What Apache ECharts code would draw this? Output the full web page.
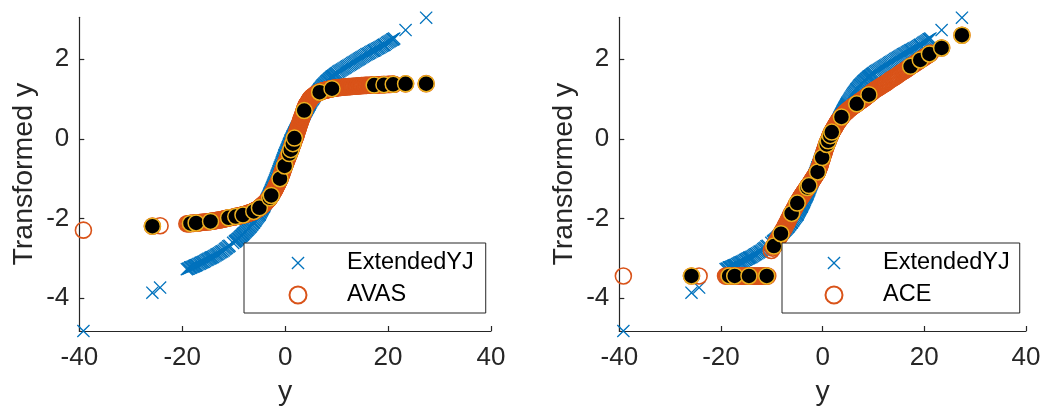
<!DOCTYPE html>
<html>
<head>
<meta charset="utf-8">
<script src="https://cdn.jsdelivr.net/npm/echarts@6/dist/echarts.min.js"></script>
<style>
  html, body { margin: 0; padding: 0; background: #fff; }
  #chart { width: 1052px; height: 415px; }
</style>
</head>
<body>
<div id="chart"></div>
<script>
// Observed y values and their transformed values (ExtendedYJ, AVAS, ACE)
const obsY = [
  -39.2, -24.3,
  -19.1, -18.7, -18.2, -17.8, -17.5, -17.1, -16.6, -16.2, -15.8, -15.3,
  -14.9, -14.4, -14.0, -13.5, -13.1, -12.6, -12.2, -11.7, -11.3, -10.8, -10.1,
  -9.8, -9.5, -9.2, -8.9, -8.6, -8.3, -8.0, -7.7, -7.4, -7.1, -6.8, -6.5, -6.2, -5.9, -5.6, -5.3, -5.0,
  -4.8, -4.62, -4.47, -4.31, -4.14, -4.02, -3.86, -3.69, -3.57, -3.41,
  -3.25, -3.1, -2.96, -2.8, -2.64, -2.5, -2.36, -2.2, -2.05, -1.91,
  -1.75, -1.6, -1.44, -1.3, -1.16, -1.0, -0.86, -0.7, -0.55, -0.41,
  -0.25, -0.1, 0.05, 0.21, 0.35, 0.5, 0.66, 0.8, 0.95, 1.1,
  1.26, 1.4, 1.55, 1.7, 1.86, 2.0, 2.15, 2.3, 2.44, 2.6,
  2.75, 2.9, 3.06, 3.2, 3.35, 3.51, 3.65, 3.8, 3.95, 4.1,
  4.25, 4.4, 4.56, 4.7, 4.85,
  5.1, 5.4, 5.7, 6.0, 6.3, 6.6, 6.9, 7.2, 7.5, 7.8, 8.1, 8.4, 8.7, 9.0, 9.3, 9.6, 9.9,
  10.3, 10.8, 11.3, 11.8, 12.3, 12.8, 13.3, 13.8, 14.3, 14.8, 15.3, 15.8,
  16.3, 16.8, 17.3, 17.8, 18.3, 18.8, 19.3, 19.8, 20.3, 20.8, 21.2
];
const yjT = [
  -4.82, -3.73,
  -3.27, -3.25, -3.22, -3.20, -3.18, -3.16, -3.13, -3.10, -3.08, -3.04,
  -3.01, -2.98, -2.96, -2.92, -2.89, -2.85, -2.82, -2.77, -2.73, -2.68, -2.61,
  -2.58, -2.55, -2.51, -2.48, -2.44, -2.41, -2.37, -2.33, -2.29, -2.25, -2.21, -2.16, -2.11, -2.06, -2.01, -1.95, -1.90,
  -1.85, -1.80, -1.77, -1.73, -1.70, -1.66, -1.62, -1.58, -1.53, -1.49,
  -1.45, -1.41, -1.36, -1.32, -1.27, -1.22, -1.17, -1.12, -1.08, -1.03,
  -0.98, -0.92, -0.87, -0.82, -0.77, -0.72, -0.67, -0.62, -0.57, -0.52,
  -0.47, -0.41, -0.36, -0.32, -0.27, -0.22, -0.18, -0.13, -0.09, -0.04,
  0.00, 0.04, 0.08, 0.12, 0.16, 0.20, 0.24, 0.28, 0.31, 0.35,
  0.39, 0.43, 0.46, 0.50, 0.54, 0.58, 0.61, 0.65, 0.69, 0.72,
  0.76, 0.79, 0.83, 0.86, 0.90,
  0.95, 1.01, 1.07, 1.13, 1.18, 1.23, 1.28, 1.33, 1.37, 1.41, 1.45, 1.48, 1.52, 1.55, 1.58, 1.61, 1.64,
  1.68, 1.72, 1.76, 1.80, 1.84, 1.88, 1.92, 1.96, 2.00, 2.04, 2.08, 2.12,
  2.15, 2.19, 2.22, 2.26, 2.29, 2.33, 2.36, 2.41, 2.45, 2.49, 2.52
];
const avasT = [
  -2.29, -2.18,
  -2.13, -2.13, -2.12, -2.12, -2.11, -2.11, -2.10, -2.09, -2.09, -2.08,
  -2.08, -2.07, -2.06, -2.05, -2.04, -2.03, -2.02, -2.00, -1.99, -1.98, -1.96,
  -1.95, -1.945, -1.94, -1.93, -1.92, -1.91, -1.90, -1.89, -1.88, -1.86, -1.85, -1.84, -1.82, -1.80, -1.78, -1.76, -1.73,
  -1.71, -1.69, -1.67, -1.65, -1.64, -1.62, -1.60, -1.58, -1.56, -1.54,
  -1.52, -1.50, -1.47, -1.44, -1.41, -1.38, -1.34, -1.31, -1.28, -1.24,
  -1.20, -1.16, -1.12, -1.08, -1.04, -1.00, -0.95, -0.89, -0.84, -0.78,
  -0.73, -0.68, -0.62, -0.57, -0.52, -0.47, -0.42, -0.37, -0.32, -0.27,
  -0.21, -0.16, -0.11, -0.05, 0.00, 0.05, 0.11, 0.17, 0.23, 0.29,
  0.35, 0.41, 0.47, 0.52, 0.58, 0.63, 0.69, 0.75, 0.80, 0.84,
  0.87, 0.90, 0.94, 0.97, 1.00,
  1.04, 1.07, 1.10, 1.13, 1.15, 1.17, 1.19, 1.20, 1.21, 1.22, 1.23, 1.24, 1.25, 1.26, 1.265, 1.27, 1.28,
  1.285, 1.29, 1.30, 1.305, 1.31, 1.315, 1.32, 1.325, 1.33, 1.335, 1.34, 1.342,
  1.345, 1.348, 1.35, 1.353, 1.357, 1.36, 1.362, 1.365, 1.367, 1.37, 1.37
];
const aceT = [
  -3.44, -3.44,
  -3.44, -3.44, -3.44, -3.44, -3.44, -3.44, -3.44, -3.44, -3.44, -3.44,
  -3.44, -3.44, -3.44, -3.44, -3.44, -3.44, -3.44, -3.44, -3.44, -3.44, -2.80,
  -2.74, -2.67, -2.60, -2.54, -2.47, -2.41, -2.34, -2.27, -2.20, -2.12, -2.05, -1.97, -1.89, -1.82, -1.75, -1.68, -1.61,
  -1.57, -1.53, -1.50, -1.47, -1.44, -1.41, -1.38, -1.35, -1.32, -1.30,
  -1.27, -1.24, -1.21, -1.18, -1.16, -1.13, -1.10, -1.07, -1.04, -1.01,
  -0.98, -0.95, -0.92, -0.89, -0.86, -0.83, -0.78, -0.73, -0.68, -0.62,
  -0.55, -0.49, -0.43, -0.37, -0.31, -0.25, -0.19, -0.14, -0.09, -0.05,
  0.00, 0.05, 0.10, 0.14, 0.18, 0.22, 0.25, 0.28, 0.31, 0.35,
  0.38, 0.41, 0.44, 0.46, 0.49, 0.51, 0.54, 0.57, 0.59, 0.61,
  0.63, 0.65, 0.67, 0.68, 0.70,
  0.73, 0.76, 0.79, 0.82, 0.85, 0.87, 0.90, 0.93, 0.96, 0.98, 1.01, 1.04, 1.07, 1.10, 1.13, 1.16, 1.19,
  1.23, 1.27, 1.31, 1.35, 1.39, 1.43, 1.48, 1.52, 1.56, 1.60, 1.65, 1.69,
  1.73, 1.77, 1.82, 1.86, 1.90, 1.94, 1.99, 2.03, 2.07, 2.11, 2.15
];

// Further observations lying between the ones above
const obsY2 = [
  -18.9, -18.45, -18.0, -17.65, -17.3, -16.85, -16.4, -16.0, -15.55, -15.1,
  -14.65, -14.2, -13.75, -13.3, -12.85, -12.4, -11.95, -11.5, -11.05,
  -9.65, -9.35, -9.05, -8.75, -8.45, -8.15, -7.85, -7.55, -7.25, -6.95, -6.65, -6.35, -6.05, -5.75, -5.45, -5.15,
  -4.9, -4.71, -4.55, -4.39, -4.22, -4.08, -3.94, -3.78, -3.63, -3.49,
  -3.33, -3.18, -3.03, -2.88, -2.72, -2.57, -2.43, -2.28, -2.13, -1.98,
  -1.83, -1.68, -1.52, -1.37, -1.23, -1.08, -0.93, -0.78, -0.62, -0.48,
  -0.33, -0.17, -0.03, 0.13, 0.28, 0.43, 0.58, 0.73, 0.88, 1.03,
  1.18, 1.33, 1.48, 1.63, 1.78, 1.93, 2.08, 2.23, 2.37, 2.52,
  2.68, 2.83, 2.98, 3.13, 3.28, 3.43, 3.58, 3.73, 3.88, 4.03,
  4.18, 4.33, 4.48, 4.63, 4.78, 4.95,
  5.25, 5.55, 5.85, 6.15, 6.45, 6.75, 7.05, 7.35, 7.65, 7.95, 8.25, 8.55, 8.85, 9.15, 9.45, 9.75,
  10.05, 10.55, 11.05, 11.55, 12.05, 12.55, 13.05, 13.55, 14.05, 14.55, 15.05, 15.55,
  16.05, 16.55, 17.05, 17.55, 18.05, 18.55, 19.05, 19.55, 20.05, 20.55, 21.0
];
const yjT2 = [
  -3.26, -3.23, -3.21, -3.19, -3.17, -3.14, -3.11, -3.09, -3.06, -3.03,
  -3.00, -2.97, -2.94, -2.90, -2.87, -2.83, -2.80, -2.75, -2.70,
  -2.56, -2.53, -2.50, -2.46, -2.43, -2.39, -2.35, -2.31, -2.27, -2.23, -2.19, -2.14, -2.09, -2.04, -1.98, -1.93,
  -1.88, -1.83, -1.79, -1.75, -1.71, -1.68, -1.64, -1.60, -1.56, -1.52,
  -1.47, -1.43, -1.39, -1.34, -1.29, -1.24, -1.20, -1.15, -1.10, -1.05,
  -1.00, -0.95, -0.90, -0.85, -0.80, -0.75, -0.70, -0.65, -0.59, -0.54,
  -0.49, -0.44, -0.39, -0.34, -0.29, -0.25, -0.20, -0.15, -0.11, -0.06,
  -0.02, 0.02, 0.06, 0.10, 0.14, 0.18, 0.22, 0.26, 0.29, 0.33,
  0.37, 0.41, 0.45, 0.48, 0.52, 0.56, 0.60, 0.63, 0.67, 0.71,
  0.74, 0.78, 0.81, 0.85, 0.88, 0.92,
  0.98, 1.04, 1.10, 1.155, 1.205, 1.255, 1.305, 1.35, 1.39, 1.43, 1.465, 1.50, 1.535, 1.565, 1.595, 1.625,
  1.655, 1.70, 1.74, 1.78, 1.82, 1.86, 1.90, 1.94, 1.98, 2.02, 2.06, 2.10,
  2.135, 2.17, 2.205, 2.24, 2.275, 2.31, 2.345, 2.385, 2.43, 2.47, 2.50
];
const avasT2 = [
  -2.13, -2.125, -2.12, -2.115, -2.11, -2.105, -2.10, -2.09, -2.085, -2.08,
  -2.075, -2.065, -2.055, -2.045, -2.035, -2.025, -2.015, -2.00, -1.985,
  -1.95, -1.94, -1.935, -1.925, -1.915, -1.905, -1.895, -1.885, -1.87, -1.86, -1.845, -1.83, -1.81, -1.79, -1.77, -1.745,
  -1.72, -1.70, -1.68, -1.66, -1.645, -1.63, -1.61, -1.59, -1.57, -1.55,
  -1.53, -1.51, -1.485, -1.455, -1.425, -1.40, -1.36, -1.33, -1.30, -1.26,
  -1.22, -1.18, -1.14, -1.10, -1.06, -1.02, -0.97, -0.92, -0.86, -0.81,
  -0.76, -0.70, -0.65, -0.60, -0.55, -0.49, -0.44, -0.39, -0.34, -0.29,
  -0.24, -0.18, -0.13, -0.08, -0.02, 0.03, 0.08, 0.14, 0.20, 0.26,
  0.32, 0.38, 0.44, 0.50, 0.55, 0.61, 0.66, 0.72, 0.77, 0.83,
  0.86, 0.89, 0.92, 0.955, 0.985, 1.02,
  1.055, 1.085, 1.115, 1.14, 1.16, 1.18, 1.195, 1.205, 1.215, 1.225, 1.235, 1.245, 1.255, 1.262, 1.268, 1.275,
  1.282, 1.288, 1.295, 1.302, 1.308, 1.312, 1.318, 1.322, 1.328, 1.332, 1.338, 1.341,
  1.344, 1.346, 1.349, 1.352, 1.355, 1.358, 1.361, 1.363, 1.366, 1.368, 1.37
];
const aceT2 = [
  -3.44, -3.44, -3.44, -3.44, -3.44, -3.44, -3.44, -3.44, -3.44, -3.44,
  -3.44, -3.44, -3.44, -3.44, -3.44, -3.44, -3.44, -3.44, -3.44,
  -2.70, -2.64, -2.57, -2.51, -2.44, -2.37, -2.30, -2.24, -2.16, -2.09, -2.01, -1.93, -1.86, -1.79, -1.72, -1.65,
  -1.59, -1.55, -1.52, -1.48, -1.45, -1.42, -1.40, -1.37, -1.34, -1.31,
  -1.28, -1.25, -1.22, -1.19, -1.17, -1.14, -1.11, -1.08, -1.05, -1.02,
  -0.99, -0.96, -0.93, -0.90, -0.87, -0.84, -0.80, -0.75, -0.70, -0.65,
  -0.58, -0.52, -0.46, -0.40, -0.34, -0.28, -0.22, -0.16, -0.11, -0.07,
  -0.02, 0.03, 0.07, 0.12, 0.16, 0.20, 0.23, 0.26, 0.29, 0.33,
  0.36, 0.39, 0.43, 0.45, 0.48, 0.50, 0.52, 0.55, 0.58, 0.60,
  0.62, 0.64, 0.66, 0.675, 0.69, 0.71,
  0.745, 0.775, 0.805, 0.835, 0.86, 0.885, 0.915, 0.945, 0.97, 0.995, 1.025, 1.055, 1.085, 1.115, 1.145, 1.175,
  1.21, 1.25, 1.29, 1.33, 1.37, 1.41, 1.455, 1.50, 1.54, 1.58, 1.625, 1.67,
  1.71, 1.75, 1.795, 1.84, 1.88, 1.92, 1.965, 2.01, 2.05, 2.09, 2.13
];

// Marked observations (filled black circles) and their transformed values
const markY    = [-25.8, -18.4, -17.3, -14.5, -11.0, -9.6, -8.2, -6.1, -5.0, -3.0, -2.7, -1.0, -0.1, 0.8, 1.1, 1.5, 1.8, 3.7, 6.7, 9.1, 17.3, 19.2, 21.0, 23.4, 27.4];
const markYJ   = [-3.86, -3.23, -3.17, -2.99, -2.70, -2.56, -2.39, -2.10, -1.90, -1.38, -1.29, -0.72, -0.41, -0.13, -0.04, 0.07, 0.15, 0.62, 1.25, 1.56, 2.22, 2.36, 2.50, 2.73, 3.04];
const markAvas = [-2.19, -2.12, -2.11, -2.07, -1.98, -1.95, -1.91, -1.82, -1.73, -1.48, -1.42, -1.00, -0.68, -0.37, -0.27, -0.12, 0.02, 0.71, 1.17, 1.26, 1.35, 1.36, 1.37, 1.38, 1.385];
const markAce  = [-3.44, -3.44, -3.44, -3.44, -3.44, -2.69, -2.38, -1.87, -1.61, -1.22, -1.17, -0.83, -0.47, -0.14, -0.05, 0.08, 0.17, 0.55, 0.88, 1.11, 1.82, 1.98, 2.13, 2.28, 2.60];

const xTicksStep = 20;
const yTickValues = [-4, -2, 0, 2];
const yRange = [-4.82, 3.05];

const FONT = 'Arial, "Liberation Sans", Helvetica, sans-serif';
const INK = '#262626';
const BLUE = '#0072BD';
const ORANGE = '#D95319';
const GOLD = '#EDB120';
// "x" marker drawn as a filled thin cross, with a little padding in its 26x26 box
const X_MARK = 'path://M0,0M26,26M3,4.4L4.4,3L13,11.6L21.6,3L23,4.4L14.4,13L23,21.6L21.6,23L13,14.4L4.4,23L3,21.6L11.6,13Z';

const allY = obsY.concat(obsY2, markY);
const allYJ = yjT.concat(yjT2, markYJ);
const allAvas = avasT.concat(avasT2, markAvas);
const allAce = aceT.concat(aceT2, markAce);
const pairs = (xs, ys) => xs.map((x, i) => [x, ys[i]]);

function xAxisFor(gridIndex) {
  return {
    type: 'value', gridIndex: gridIndex,
    min: -40, max: 40, interval: xTicksStep,
    name: 'y', nameLocation: 'middle', nameGap: 47,
    nameTextStyle: { fontSize: 28.5, color: INK, fontFamily: FONT },
    axisLine: { onZero: false, lineStyle: { color: INK, width: 1.2 } },
    axisTick: { inside: true, length: 5, lineStyle: { color: INK, width: 1.2 } },
    axisLabel: { fontSize: 26, color: INK, fontFamily: FONT, margin: 14 },
    splitLine: { show: false }
  };
}
function yAxisFor(gridIndex) {
  return {
    type: 'value', gridIndex: gridIndex,
    min: yRange[0], max: yRange[1],
    name: 'Transformed y', nameLocation: 'middle', nameGap: 41, nameRotate: 90,
    nameTextStyle: { fontSize: 28.5, color: INK, fontFamily: FONT },
    axisLine: { onZero: false, lineStyle: { color: INK, width: 1.2 } },
    axisTick: { inside: true, length: 5, lineStyle: { color: INK, width: 1.2 }, customValues: yTickValues },
    axisLabel: { fontSize: 26, color: INK, fontFamily: FONT, margin: 10, customValues: yTickValues },
    splitLine: { show: false }
  };
}
function legendFor(left, padding, second) {
  return {
    orient: 'vertical', left: left, top: 243,
    itemWidth: 17, itemHeight: 17, itemGap: 8,
    padding: padding,
    borderColor: INK, borderWidth: 1, backgroundColor: '#fff',
    selectedMode: false,
    textStyle: { fontSize: 23.5, color: '#000', fontFamily: FONT, padding: [0, 0, 0, 35.5] },
    data: [{ name: 'ExtendedYJ', icon: X_MARK }, { name: second, icon: 'circle' }]
  };
}
function seriesFor(idx, name, values, markValues) {
  return [
    {
      type: 'scatter', name: 'ExtendedYJ', xAxisIndex: idx, yAxisIndex: idx,
      symbol: X_MARK, symbolSize: 17, clip: false,
      itemStyle: { color: BLUE, opacity: 1 },
      emphasis: { disabled: true },
      data: pairs(allY, allYJ)
    },
    {
      type: 'scatter', name: name, xAxisIndex: idx, yAxisIndex: idx,
      symbol: 'circle', symbolSize: 16, clip: false,
      itemStyle: { color: 'rgba(0,0,0,0)', borderColor: ORANGE, borderWidth: 1.6, opacity: 1 },
      emphasis: { disabled: true },
      data: pairs(allY, values)
    },
    {
      type: 'scatter', xAxisIndex: idx, yAxisIndex: idx,
      symbol: 'circle', symbolSize: 16, clip: false,
      itemStyle: { color: '#000', borderColor: GOLD, borderWidth: 1.5, opacity: 1 },
      emphasis: { disabled: true },
      data: pairs(markY, markValues)
    }
  ];
}

const chart = echarts.init(document.getElementById('chart'), null, { renderer: 'canvas' });
chart.setOption({
  animation: false,
  backgroundColor: '#fff',
  textStyle: { fontFamily: FONT },
  grid: [
    { left: 79.3, top: 17.3, width: 411.7, height: 313.7 },
    { left: 619.3, top: 17.3, width: 406.7, height: 313.7 }
  ],
  xAxis: [xAxisFor(0), xAxisFor(1)],
  yAxis: [yAxisFor(0), yAxisFor(1)],
  legend: [
    legendFor(244, [8, 12, 6, 44.5], 'AVAS'),
    legendFor(782, [8, 10, 6, 42.5], 'ACE')
  ],
  series: seriesFor(0, 'AVAS', allAvas, markAvas).concat(seriesFor(1, 'ACE', allAce, markAce))
});
</script>
</body>
</html>
